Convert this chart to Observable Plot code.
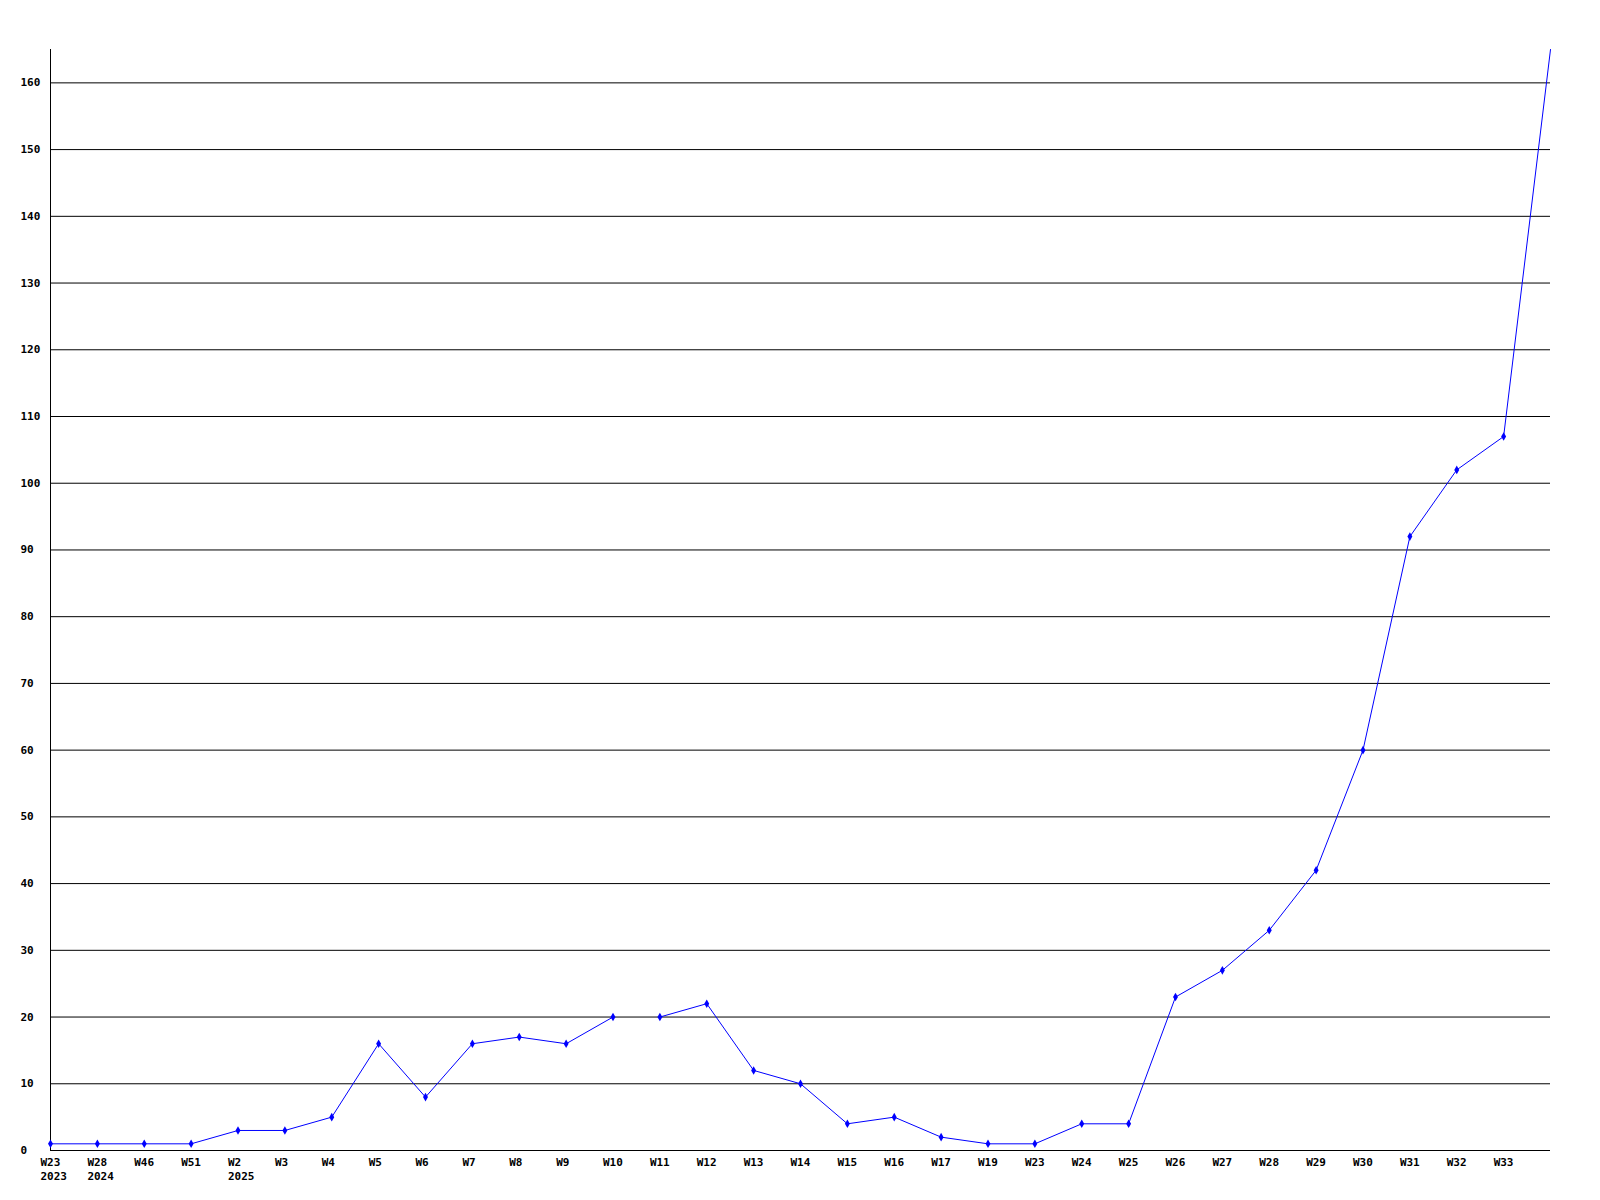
<!DOCTYPE html>
<html>
<head>
<meta charset="utf-8">
<script src="https://cdn.jsdelivr.net/npm/d3@7"></script>
<script src="https://cdn.jsdelivr.net/npm/@observablehq/plot@0.6"></script>
<style>
  html, body { margin: 0; padding: 0; background: #ffffff; }
</style>
</head>
<body>
<div id="chart"></div>
<script>
// Week labels (x axis), with the year shown under the first week of each year
const weeks  = ["W23","W28","W46","W51","W2","W3","W4","W5","W6","W7","W8","W9","W10","W11","W12","W13","W14","W15","W16","W17","W19","W23","W24","W25","W26","W27","W28","W29","W30","W31","W32","W33",""];
const years  = ["2023","2024","","","2025","","","","","","","","","","","","","","","","","","","","","","","","","","","",""];
// Values
const values = [1,1,1,1,3,3,5,16,8,16,17,16,20,20,22,12,10,4,5,2,1,1,4,4,23,27,33,42,60,92,102,107,165];
// Line runs: the line is broken between W10 and W11
const runs   = [0,0,0,0,0,0,0,0,0,0,0,0,0,1,1,1,1,1,1,1,1,1,1,1,1,1,1,1,1,1,1,1,1];
// Y tick values
const yTicks = d3.range(0, 161, 10);

const data = values.map((v, i) => ({i, v, run: runs[i], week: weeks[i], year: years[i]}));
const tickIdx = d3.range(weeks.length).filter(i => weeks[i] !== "");

const chart = Plot.plot({
  width: 1600,
  height: 1200,
  marginLeft: 50,
  marginRight: 50,
  marginTop: 49,
  marginBottom: 50,
  style: {fontFamily: "'DejaVu Sans Mono', monospace", fontWeight: "bold", fontSize: "11px", background: "#ffffff", color: "#000"},
  x: {type: "linear", domain: [0, weeks.length - 1], label: null},
  y: {domain: [0, 165], label: null},
  marks: [
    Plot.ruleY(yTicks.filter(t => t > 0), {stroke: "#000", strokeWidth: 1, strokeOpacity: 1}),
    Plot.ruleY([0], {stroke: "#000", strokeWidth: 1}),
    Plot.ruleX([0], {stroke: "#000", strokeWidth: 1}),
    Plot.axisY(yTicks, {tickSize: 0, tickPadding: 0, textAnchor: "start", dx: -30, fill: "#000", label: null}),
    Plot.axisX(tickIdx, {tickSize: 0, tickPadding: 5, textAnchor: "start", dx: -10, fill: "#000", lineHeight: 1.32, label: null,
      tickFormat: i => years[i] ? weeks[i] + "\n" + years[i] : weeks[i]}),
    Plot.line(data, {x: "i", y: "v", z: "run", stroke: "#0000ff", strokeWidth: 1}),
    Plot.dot(data.filter(d => d.week !== ""), {x: "i", y: "v", symbol: "diamond", r: 2.6, fill: "#0000ff", stroke: "none"})
  ]
});
document.getElementById("chart").appendChild(chart);
</script>
</body>
</html>
